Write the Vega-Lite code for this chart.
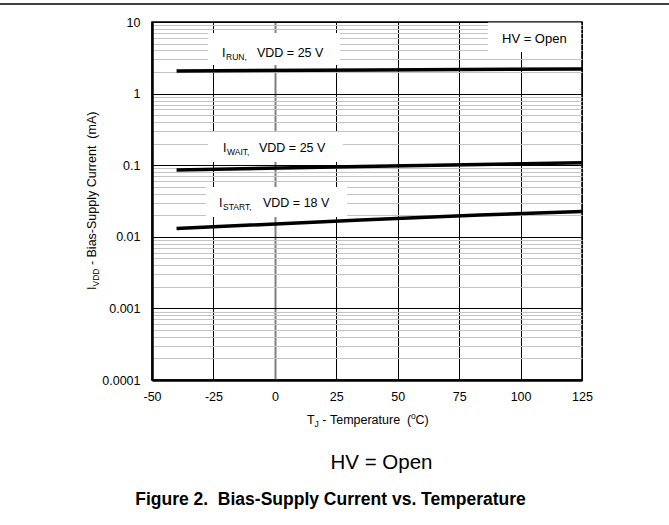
{
  "$schema": "https://vega.github.io/schema/vega-lite/v6.json",
  "width": 430,
  "height": 358,
  "autosize": {"type": "none"},
  "padding": {"left": 152, "top": 22, "right": 87, "bottom": 145},
  "background": "white",
  "config": {"font": "Liberation Sans", "view": {"stroke": "black", "strokeWidth": 1.5}},
  "datasets": {
    "curves": [
      {"curve": "IRUN", "T": -40, "I": 2.07},
      {"curve": "IRUN", "T": 40, "I": 2.14},
      {"curve": "IRUN", "T": 125, "I": 2.21},
      {"curve": "IWAIT", "T": -40, "I": 0.086},
      {"curve": "IWAIT", "T": 35, "I": 0.096},
      {"curve": "IWAIT", "T": 83.5, "I": 0.102},
      {"curve": "IWAIT", "T": 125, "I": 0.108},
      {"curve": "ISTART", "T": -40, "I": 0.0131},
      {"curve": "ISTART", "T": 35, "I": 0.0171},
      {"curve": "ISTART", "T": 83.5, "I": 0.0202},
      {"curve": "ISTART", "T": 125, "I": 0.0226}
    ],
    "boxes": [
      {"T": -27.2, "T2": 26.5, "I": 7.02, "I2": 2.51},
      {"T": -27.2, "T2": 27.7, "I": 0.291, "I2": 0.111},
      {"T": -28.0, "T2": 29.4, "I": 0.0496, "I2": 0.0189},
      {"T": 86.7, "T2": 124.6, "I": 9.88, "I2": 3.81}
    ],
    "labelMain": [
      {"sym": "I", "sub": "RUN,", "T": -21.5, "I": 3.245},
      {"sym": "I", "sub": "WAIT,", "T": -21.1, "I": 0.1529},
      {"sym": "I", "sub": "START,", "T": -22.73, "I": 0.02608}
    ],
    "labelRest": [
      {"rest": "VDD = 25 V", "T": -7.27, "I": 3.245},
      {"rest": "VDD = 25 V", "T": -6.45, "I": 0.1529},
      {"rest": "VDD = 18 V", "T": -4.83, "I": 0.02608}
    ],
    "notes": [
      {"role": "hv", "T": 92.44, "I": 5.09, "text": "HV = Open"},
      {"role": "ytitle", "T": -72.59, "I": 0.001807, "sym": "I", "sub": "VDD", "rest": "-\u00a0Bias-Supply Current\u00a0\u00a0(mA)"},
      {"role": "xtitle", "T": 13.08, "I": 2.429e-5, "sym": "T", "sub": "J", "rest": "-\u00a0Temperature\u00a0\u00a0(", "sup": "o", "end": "C)"},
      {"role": "hvbig", "T": 43.4, "I": 5.71e-6, "text": "HV = Open"},
      {"role": "caption", "T": 22.65, "I": 1.824e-6, "text": "Figure 2.\u00a0\u00a0Bias-Supply Current vs. Temperature"},
      {"role": "rule", "T": -111.86, "T2": 160.4, "I": 17.84}
    ]
  },
  "encoding": {
    "x": {
      "field": "T", "type": "quantitative",
      "scale": {"domain": [-50, 125], "nice": false, "zero": false},
      "axis": {
        "title": null,
        "values": [-50, -25, 0, 25, 50, 75, 100, 125],
        "grid": true,
        "gridColor": {"condition": {"test": "datum.value === 0", "value": "#808080"}, "value": "black"},
        "gridWidth": {"condition": {"test": "datum.value === 0", "value": 2}, "value": 1},
        "gridOpacity": 1,
        "ticks": false,
        "domain": true,
        "domainColor": "black",
        "domainWidth": 2.5,
        "labelExpr": "'' + datum.value",
        "labelFontSize": 12.5,
        "labelColor": "black",
        "labelPadding": 10,
        "labelFlush": false,
        "labelOverlap": false
      }
    },
    "y": {
      "field": "I", "type": "quantitative",
      "scale": {"type": "log", "domain": [0.0001, 10], "nice": false},
      "axis": {
        "title": null,
        "values": [0.0001, 0.0002, 0.0003, 0.0004, 0.0005, 0.0006, 0.0007, 0.0008, 0.0009,
                   0.001, 0.002, 0.003, 0.004, 0.005, 0.006, 0.007, 0.008, 0.009,
                   0.01, 0.02, 0.03, 0.04, 0.05, 0.06, 0.07, 0.08, 0.09,
                   0.1, 0.2, 0.3, 0.4, 0.5, 0.6, 0.7, 0.8, 0.9,
                   1, 2, 3, 4, 5, 6, 7, 8, 9, 10],
        "grid": true,
        "gridColor": {"condition": {"test": "indexof([10, 1, 0.1, 0.01, 0.001, 0.0001], datum.value) >= 0", "value": "black"}, "value": "#c4c4c4"},
        "gridWidth": 1,
        "gridOpacity": 1,
        "ticks": false,
        "domain": true,
        "domainColor": "black",
        "domainWidth": 2.5,
        "labelExpr": "indexof([10, 1, 0.1, 0.01, 0.001, 0.0001], datum.value) >= 0 ? '' + datum.value : ''",
        "labelFontSize": 12.5,
        "labelColor": "black",
        "labelPadding": 12,
        "labelOverlap": false,
        "labelFlush": false
      }
    }
  },
  "layer": [
    {
      "data": {"name": "boxes"},
      "mark": {"type": "rect", "fill": "white"},
      "encoding": {"x2": {"field": "T2"}, "y2": {"field": "I2"}}
    },
    {
      "data": {"name": "curves"},
      "mark": {"type": "line", "color": "black", "strokeWidth": 3.5},
      "encoding": {"detail": {"field": "curve"}}
    },
    {
      "data": {"name": "labelMain"},
      "mark": {"type": "text", "align": "left", "baseline": "alphabetic", "fontSize": 12.5, "color": "black"},
      "encoding": {"text": {"field": "sym"}}
    },
    {
      "data": {"name": "labelMain"},
      "mark": {"type": "text", "align": "left", "baseline": "alphabetic", "fontSize": 8.5, "dx": 4, "dy": 3, "color": "black"},
      "encoding": {"text": {"field": "sub"}}
    },
    {
      "data": {"name": "labelRest"},
      "mark": {"type": "text", "align": "left", "baseline": "alphabetic", "fontSize": 12.5, "color": "black"},
      "encoding": {"text": {"field": "rest"}}
    },
    {
      "data": {"name": "notes"},
      "transform": [{"filter": "datum.role === 'hv'"}],
      "mark": {"type": "text", "align": "left", "baseline": "alphabetic", "fontSize": 13, "color": "black"},
      "encoding": {"text": {"field": "text"}}
    },
    {
      "data": {"name": "notes"},
      "transform": [{"filter": "datum.role === 'ytitle'"}],
      "mark": {"type": "text", "align": "left", "baseline": "alphabetic", "angle": 270, "fontSize": 12.5, "color": "black"},
      "encoding": {"text": {"field": "sym"}}
    },
    {
      "data": {"name": "notes"},
      "transform": [{"filter": "datum.role === 'ytitle'"}],
      "mark": {"type": "text", "align": "left", "baseline": "alphabetic", "angle": 270, "fontSize": 8.5, "dx": 3.5, "dy": 3, "color": "black"},
      "encoding": {"text": {"field": "sub"}}
    },
    {
      "data": {"name": "notes"},
      "transform": [{"filter": "datum.role === 'ytitle'"}],
      "mark": {"type": "text", "align": "left", "baseline": "alphabetic", "angle": 270, "fontSize": 12.5, "dx": 24.9, "color": "black"},
      "encoding": {"text": {"field": "rest"}}
    },
    {
      "data": {"name": "notes"},
      "transform": [{"filter": "datum.role === 'xtitle'"}],
      "mark": {"type": "text", "align": "left", "baseline": "alphabetic", "fontSize": 12.5, "color": "black"},
      "encoding": {"text": {"field": "sym"}}
    },
    {
      "data": {"name": "notes"},
      "transform": [{"filter": "datum.role === 'xtitle'"}],
      "mark": {"type": "text", "align": "left", "baseline": "alphabetic", "fontSize": 8.5, "dx": 7.6, "dy": 3, "color": "black"},
      "encoding": {"text": {"field": "sub"}}
    },
    {
      "data": {"name": "notes"},
      "transform": [{"filter": "datum.role === 'xtitle'"}],
      "mark": {"type": "text", "align": "left", "baseline": "alphabetic", "fontSize": 12.5, "dx": 15.3, "color": "black"},
      "encoding": {"text": {"field": "rest"}}
    },
    {
      "data": {"name": "notes"},
      "transform": [{"filter": "datum.role === 'xtitle'"}],
      "mark": {"type": "text", "align": "left", "baseline": "alphabetic", "fontSize": 8.5, "dx": 104, "dy": -5, "color": "black"},
      "encoding": {"text": {"field": "sup"}}
    },
    {
      "data": {"name": "notes"},
      "transform": [{"filter": "datum.role === 'xtitle'"}],
      "mark": {"type": "text", "align": "left", "baseline": "alphabetic", "fontSize": 12.5, "dx": 108.5, "color": "black"},
      "encoding": {"text": {"field": "end"}}
    },
    {
      "data": {"name": "notes"},
      "transform": [{"filter": "datum.role === 'hvbig'"}],
      "mark": {"type": "text", "align": "center", "baseline": "alphabetic", "fontSize": 20.5, "color": "black"},
      "encoding": {"text": {"field": "text"}}
    },
    {
      "data": {"name": "notes"},
      "transform": [{"filter": "datum.role === 'caption'"}],
      "mark": {"type": "text", "align": "center", "baseline": "alphabetic", "fontSize": 17.5, "fontWeight": "bold", "color": "black"},
      "encoding": {"text": {"field": "text"}}
    },
    {
      "data": {"name": "notes"},
      "transform": [{"filter": "datum.role === 'rule'"}],
      "mark": {"type": "rule", "color": "black", "strokeWidth": 1.5},
      "encoding": {"x2": {"field": "T2"}}
    }
  ]
}
